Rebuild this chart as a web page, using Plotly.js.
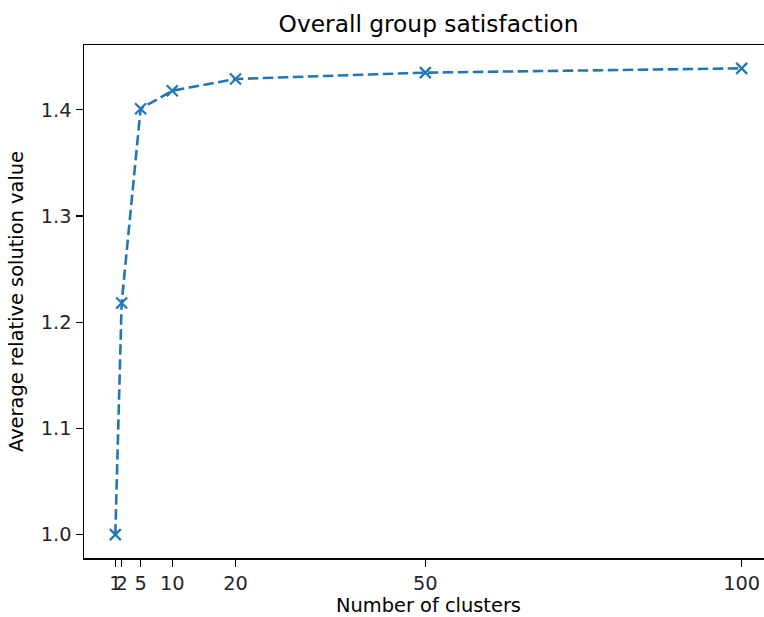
<!DOCTYPE html>
<html><head><meta charset="utf-8">
<script src="https://cdn.plot.ly/plotly-3.0.1.min.js"></script>
<style>html,body{margin:0;padding:0;overflow:hidden;background:#fff;}</style>
</head><body><div id="chart"></div>
<script>
const clusters = [1, 2, 5, 10, 20, 50, 100];
const satisfaction = [1.000, 1.218, 1.401, 1.418, 1.429, 1.435, 1.439];
const xTickVals = [1, 2, 5, 10, 20, 50, 100];
const xTickText = ["1", "2", "5", "10", "20", "50", "100"];
const yTickVals = [1.0, 1.1, 1.2, 1.3, 1.4];

const FF = "DejaVu Sans, sans-serif";
const trace = {
  x: clusters, y: satisfaction, type: "scatter", mode: "lines+markers",
  line: {color: "#1f77b4", width: 2.6, dash: "10.5px,4.5px"},
  marker: {symbol: "x-thin-open", size: 11, color: "#1f77b4", line: {color: "#1f77b4", width: 2.2}},
  hoverinfo: "skip"
};
const layout = {
  width: 780, height: 617,
  margin: {l: 84, r: 7, t: 45, b: 59},
  paper_bgcolor: "#fff", plot_bgcolor: "#fff",
  font: {family: FF, size: 19.4, color: "#262626"}, showlegend: false,
  title: {text: "Overall group satisfaction", font: {family: FF, size: 23.3, color: "#000"}, x: 0.5, xanchor: "center", xref: "paper", y: 1, yref: "paper", yanchor: "bottom", pad: {b: 13}},
  xaxis: {
    range: [-3.95, 104.95], tickvals: xTickVals, ticktext: xTickText, tickangle: 0,
    showgrid: false, zeroline: false, showline: true, mirror: true, linecolor: "#000", linewidth: 1.5,
    ticks: "outside", ticklen: 7, tickcolor: "#000", tickwidth: 1.2,
    tickfont: {family: FF, size: 19.4, color: "#262626"},
    title: {text: "Number of clusters", font: {family: FF, size: 19.4, color: "#000"}, standoff: 5}
  },
  yaxis: {
    range: [0.978, 1.461], tickvals: yTickVals, tickformat: ".1f",
    showgrid: false, zeroline: false, showline: true, mirror: true, linecolor: "#000", linewidth: 1.5,
    ticks: "outside", ticklen: 7, tickcolor: "#000", tickwidth: 1.2,
    tickfont: {family: FF, size: 19.4, color: "#262626"},
    title: {text: "Average relative solution value", font: {family: FF, size: 19.4, color: "#000"}, standoff: 12}
  }
};
Plotly.newPlot("chart", [trace], layout, {displayModeBar: false, staticPlot: true});
</script></body></html>
